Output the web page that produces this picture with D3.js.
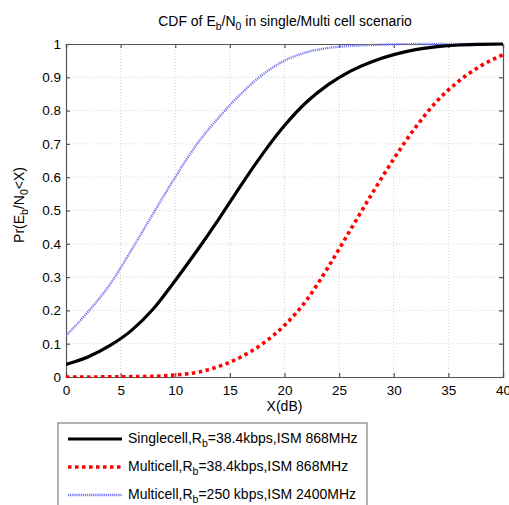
<!DOCTYPE html>
<html><head><meta charset="utf-8">
<script src="https://cdn.jsdelivr.net/npm/d3@7"></script>
<style>body{margin:0;background:#fff}svg{display:block;font-family:"Liberation Sans",Arial,sans-serif}</style>
</head><body>
<svg id="c" width="509" height="505"></svg>
<script>
const xValues = [0,2,4,6,8,10,12,14,16,18,20,22,24,26,28,30,32,34,36,38,40];
const singleCell = [0.038,0.06,0.094,0.14,0.205,0.29,0.38,0.475,0.575,0.67,0.755,0.825,0.878,0.918,0.947,0.968,0.983,0.992,0.997,0.999,1.0];
const multiCell384 = [0.0,0.0,0.0005,0.001,0.002,0.006,0.014,0.032,0.06,0.1,0.155,0.23,0.33,0.44,0.55,0.655,0.75,0.83,0.89,0.935,0.968];
const multiCell250 = [0.124,0.195,0.277,0.382,0.492,0.60,0.70,0.78,0.85,0.908,0.95,0.975,0.988,0.994,0.997,0.999,1.0,1.0,1.0,1.0,1.0];
const xTicks = [0,5,10,15,20,25,30,35,40];
const yTicks = [0,0.1,0.2,0.3,0.4,0.5,0.6,0.7,0.8,0.9,1];
const legendLabels = [["Singlecell,R","=38.4kbps,ISM 868MHz"],["Multicell,R","=38.4kbps,ISM 868MHz"],["Multicell,R","=250 kbps,ISM 2400MHz"]];

const svg = d3.select("#c");
const L=66,R=503,T=44,B=377;
const x = d3.scaleLinear().domain([0,40]).range([L,R]);
const y = d3.scaleLinear().domain([0,1]).range([B,T]);

// grid
svg.append("g").selectAll("line").data(xTicks.slice(1,-1)).join("line")
  .attr("x1",d=>x(d)).attr("x2",d=>x(d)).attr("y1",T).attr("y2",B)
  .attr("stroke","#c8c8c8").attr("stroke-width",0.8).attr("stroke-dasharray","1,2");
svg.append("g").selectAll("line").data(yTicks.slice(1,-1)).join("line")
  .attr("y1",d=>y(d)).attr("y2",d=>y(d)).attr("x1",L).attr("x2",R)
  .attr("stroke","#c8c8c8").attr("stroke-width",0.8).attr("stroke-dasharray","1,2");

// axes
const fmt = d=>d3.format("")(d);
const xb = svg.append("g").attr("transform",`translate(0,${B})`).call(d3.axisBottom(x).tickValues(xTicks).tickSize(-4).tickPadding(8).tickFormat(fmt));
const xt = svg.append("g").attr("transform",`translate(0,${T})`).call(d3.axisTop(x).tickValues(xTicks).tickSize(-4).tickFormat(""));
const yl = svg.append("g").attr("transform",`translate(${L},0)`).call(d3.axisLeft(y).tickValues(yTicks).tickSize(-4).tickPadding(5).tickFormat(fmt));
const yr = svg.append("g").attr("transform",`translate(${R},0)`).call(d3.axisRight(y).tickValues(yTicks).tickSize(-4).tickFormat(""));
[xb,xt,yl,yr].forEach(g=>{
  g.selectAll("path,line").attr("stroke","#555").attr("stroke-width",1.2);
  g.selectAll("text").attr("font-size",13.5).attr("fill","#000").attr("font-family","Liberation Sans, Arial, sans-serif");
});

// lines
svg.append("clipPath").attr("id","cp").append("rect").attr("x",L).attr("y",T-3).attr("width",R-L).attr("height",B-T+4);
const mk = vals => d3.line().x((d,i)=>x(xValues[i])).y(d=>y(d)).curve(d3.curveMonotoneX)(vals);
const styles = [{c:"#000",w:3.2,d:null},{c:"#f00",w:3.6,d:"3.5,3.5"},{c:"#7474f5",w:2.3,d:"1.2,0.9"}];
const g = svg.append("g").attr("clip-path","url(#cp)");
g.append("path").attr("d",mk(multiCell250)).attr("fill","none").attr("stroke",styles[2].c).attr("stroke-width",styles[2].w).attr("stroke-dasharray",styles[2].d);
g.append("path").attr("d",mk(singleCell)).attr("fill","none").attr("stroke",styles[0].c).attr("stroke-width",styles[0].w);
g.append("path").attr("d",mk(multiCell384)).attr("fill","none").attr("stroke",styles[1].c).attr("stroke-width",styles[1].w).attr("stroke-dasharray",styles[1].d);

// title
const title = svg.append("text").attr("x",285).attr("y",26).attr("text-anchor","middle").attr("font-size",14);
title.append("tspan").text("CDF of E");
title.append("tspan").attr("font-size",10.5).attr("dy",4).text("b");
title.append("tspan").attr("dy",-4).text("/N");
title.append("tspan").attr("font-size",10.5).attr("dy",4).text("0");
title.append("tspan").attr("dy",-4).text(" in single/Multi cell scenario");

// axis labels
svg.append("text").attr("x",x(20)).attr("y",411).attr("text-anchor","middle").attr("font-size",14).text("X(dB)");
const yt = svg.append("text").attr("transform","translate(24,205) rotate(-90)").attr("text-anchor","middle").attr("font-size",14);
yt.append("tspan").text("Pr(E");
yt.append("tspan").attr("font-size",10.5).attr("dy",4).text("b");
yt.append("tspan").attr("dy",-4).text("/N");
yt.append("tspan").attr("font-size",10.5).attr("dy",4).text("0");
yt.append("tspan").attr("dy",-4).text("<X)");

// legend
svg.append("rect").attr("x",58).attr("y",423).attr("width",309).attr("height",100).attr("fill","#fff").attr("stroke","#666").attr("stroke-width",1);
legendLabels.forEach((lab,i)=>{
  const ly = 439 + i*28;
  const s = styles[i];
  svg.append("line").attr("x1",68).attr("x2",122).attr("y1",ly).attr("y2",ly).attr("stroke",s.c).attr("stroke-width",s.w).attr("stroke-dasharray",s.d);
  const t = svg.append("text").attr("x",128).attr("y",ly+4).attr("font-size",14);
  t.append("tspan").text(lab[0]);
  t.append("tspan").attr("font-size",10.5).attr("dy",4).text("b");
  t.append("tspan").attr("dy",-4).text(lab[1]);
});
</script>
</body></html>
